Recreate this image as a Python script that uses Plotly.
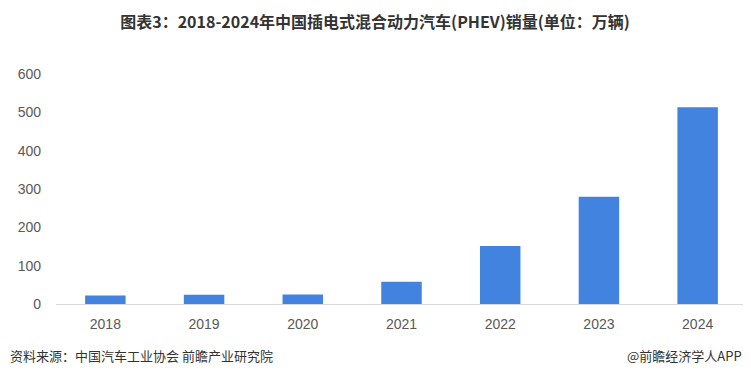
import plotly.graph_objects as go

years = ["2018", "2019", "2020", "2021", "2022", "2023", "2024"]
sales = [22, 24, 25, 58, 151, 280, 513]
y_ticks = [0, 100, 200, 300, 400, 500, 600]

title_text = "图表3：2018-2024年中国插电式混合动力汽车(PHEV)销量(单位：万辆)"
source_text = "资料来源：中国汽车工业协会 前瞻产业研究院"
brand_text = "@前瞻经济学人APP"

fig = go.Figure()
fig.add_trace(go.Bar(x=years, y=sales, marker=dict(color="#4283E0", line=dict(width=0)), width=0.41))

fig.update_layout(
    width=743, height=369,
    margin=dict(l=48, r=4, t=66, b=73),
    paper_bgcolor="white", plot_bgcolor="white",
    showlegend=False,
    font=dict(family="Liberation Sans, Arial, sans-serif", color="#595959", size=14),
    title=dict(text="<b>" + title_text + "</b>", xref="container", yref="container",
               x=0.494, xanchor="center", y=1 - 14 / 369, yanchor="middle", pad=dict(t=0),
               font=dict(family="Noto Sans CJK SC", size=16, color="#333333")),
    xaxis=dict(showgrid=False, showline=True, linecolor="#D9D9D9", linewidth=1,
               ticks="", ticklabelstandoff=7, tickfont=dict(size=14, color="#595959")),
    yaxis=dict(range=[0, 600], tickvals=y_ticks, showgrid=False, zeroline=False,
               showline=False, ticks="", ticklabelstandoff=14,
               tickfont=dict(size=14, color="#595959")),
)

fig.add_annotation(text=source_text, xref="paper", yref="paper", x=0, xshift=-48,
                   y=0, yshift=-51, xanchor="left", yanchor="middle", showarrow=False,
                   font=dict(family="Noto Sans CJK SC", size=13, color="#333333"))
fig.add_annotation(text=brand_text, xref="paper", yref="paper", x=1, xshift=-3,
                   y=0, yshift=-51, xanchor="right", yanchor="middle", showarrow=False,
                   font=dict(family="Noto Sans CJK SC", size=13, color="#333333"))

fig.write_html("out.html")
